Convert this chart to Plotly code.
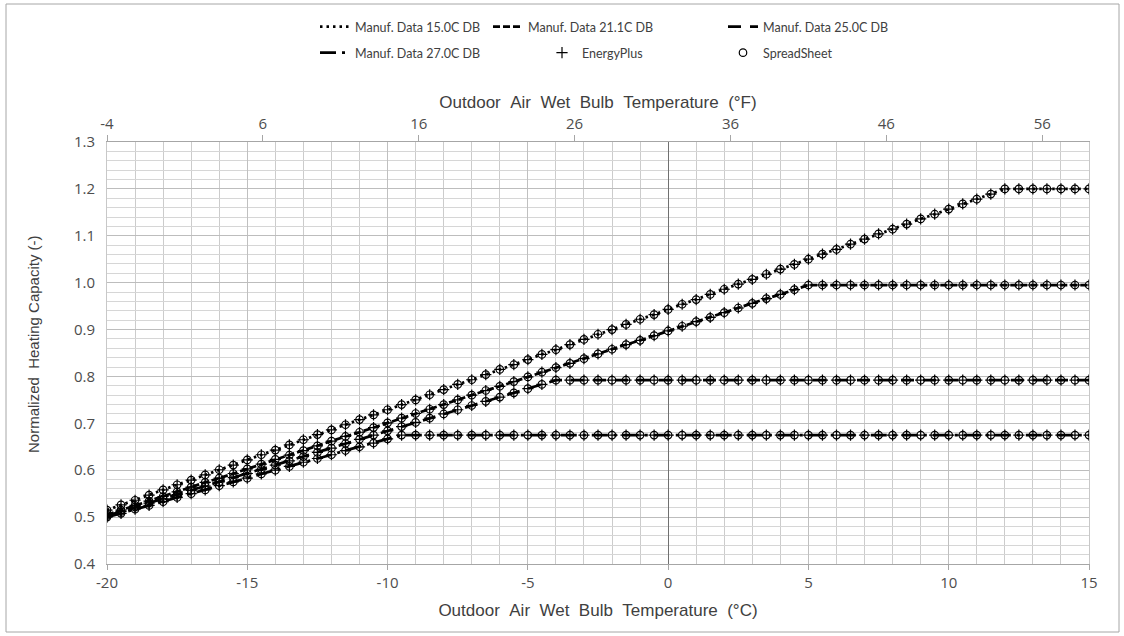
import plotly.graph_objects as go

# ---------------- data ----------------
temps_c = [-20.0, -19.5, -19.0, -18.5, -18.0, -17.5, -17.0, -16.5, -16.0, -15.5,
           -15.0, -14.5, -14.0, -13.5, -13.0, -12.5, -12.0, -11.5, -11.0, -10.5,
           -10.0, -9.5, -9.0, -8.5, -8.0, -7.5, -7.0, -6.5, -6.0, -5.5,
           -5.0, -4.5, -4.0, -3.5, -3.0, -2.5, -2.0, -1.5, -1.0, -0.5,
           0.0, 0.5, 1.0, 1.5, 2.0, 2.5, 3.0, 3.5, 4.0, 4.5,
           5.0, 5.5, 6.0, 6.5, 7.0, 7.5, 8.0, 8.5, 9.0, 9.5,
           10.0, 10.5, 11.0, 11.5, 12.0, 12.5, 13.0, 13.5, 14.0, 14.5, 15.0]

cap_15_0 = [0.515, 0.526, 0.536, 0.547, 0.558, 0.569, 0.579, 0.590, 0.601, 0.611,
            0.622, 0.633, 0.643, 0.654, 0.665, 0.676, 0.686, 0.697, 0.708, 0.718,
            0.729, 0.740, 0.750, 0.761, 0.772, 0.783, 0.793, 0.804, 0.815, 0.825,
            0.836, 0.847, 0.857, 0.868, 0.879, 0.890, 0.900, 0.911, 0.922, 0.932,
            0.943, 0.954, 0.964, 0.975, 0.986, 0.997, 1.007, 1.018, 1.029, 1.039,
            1.050, 1.061, 1.071, 1.082, 1.093, 1.104, 1.114, 1.125, 1.136, 1.146,
            1.157, 1.168, 1.178, 1.189, 1.200, 1.200, 1.200, 1.200, 1.200, 1.200, 1.200]

cap_21_1 = [0.505, 0.515, 0.525, 0.534, 0.544, 0.554, 0.564, 0.574, 0.583, 0.593,
            0.603, 0.613, 0.623, 0.632, 0.642, 0.652, 0.662, 0.672, 0.681, 0.691,
            0.701, 0.711, 0.721, 0.730, 0.740, 0.750, 0.760, 0.770, 0.779, 0.789,
            0.799, 0.809, 0.819, 0.828, 0.838, 0.848, 0.858, 0.868, 0.877, 0.887,
            0.897, 0.907, 0.917, 0.926, 0.936, 0.946, 0.956, 0.966, 0.975, 0.985,
            0.995, 0.995, 0.995, 0.995, 0.995, 0.995, 0.995, 0.995, 0.995, 0.995,
            0.995, 0.995, 0.995, 0.995, 0.995, 0.995, 0.995, 0.995, 0.995, 0.995, 0.995]

cap_25_0 = [0.503, 0.512, 0.521, 0.530, 0.539, 0.548, 0.557, 0.566, 0.575, 0.584,
            0.593, 0.602, 0.611, 0.620, 0.629, 0.638, 0.647, 0.657, 0.666, 0.675,
            0.684, 0.693, 0.702, 0.711, 0.720, 0.729, 0.738, 0.747, 0.756, 0.765,
            0.774, 0.783, 0.792, 0.792, 0.792, 0.792, 0.792, 0.792, 0.792, 0.792,
            0.792, 0.792, 0.792, 0.792, 0.792, 0.792, 0.792, 0.792, 0.792, 0.792,
            0.792, 0.792, 0.792, 0.792, 0.792, 0.792, 0.792, 0.792, 0.792, 0.792,
            0.792, 0.792, 0.792, 0.792, 0.792, 0.792, 0.792, 0.792, 0.792, 0.792, 0.792]

cap_27_0 = [0.500, 0.508, 0.517, 0.525, 0.533, 0.542, 0.550, 0.558, 0.567, 0.575,
            0.583, 0.592, 0.600, 0.608, 0.617, 0.625, 0.633, 0.642, 0.650, 0.658,
            0.667, 0.675, 0.675, 0.675, 0.675, 0.675, 0.675, 0.675, 0.675, 0.675,
            0.675, 0.675, 0.675, 0.675, 0.675, 0.675, 0.675, 0.675, 0.675, 0.675,
            0.675, 0.675, 0.675, 0.675, 0.675, 0.675, 0.675, 0.675, 0.675, 0.675,
            0.675, 0.675, 0.675, 0.675, 0.675, 0.675, 0.675, 0.675, 0.675, 0.675,
            0.675, 0.675, 0.675, 0.675, 0.675, 0.675, 0.675, 0.675, 0.675, 0.675, 0.675]

series_names = ["Manuf. Data 15.0C DB", "Manuf. Data 21.1C DB",
                "Manuf. Data 25.0C DB", "Manuf. Data 27.0C DB"]
sim_names = ["EnergyPlus", "SpreadSheet"]

x_range_c = [-20, 15]
y_range = [0.4, 1.3]
bottom_ticks_c = [-20, -15, -10, -5, 0, 5, 10, 15]
bottom_labels_c = ["-20", "-15", "-10", "-5", "0", "5", "10", "15"]
top_ticks_f = [-4, 6, 16, 26, 36, 46, 56]
top_labels_f = ["-4", "6", "16", "26", "36", "46", "56"]

# ---------------- styles ----------------
W, H = 1124, 636
L, R, T, B = 107, 35, 142, 72
PW, PH = W - L - R, H - T - B
dashes = ["2.5px,4px", "7px,3px", "13px,9px", "16px,6px,3px,6px"]
legend_ids = ["legend", "legend2", "legend3", "legend4"]
# legend anchor positions in px (left, centre y)
legend_pos = {
    "legend": (315, 27), "legend2": (488, 27), "legend3": (723, 27),
    "legend4": (315, 53), "legend5": (542, 53), "legend6": (723, 53),
}
legend_font = dict(family="Lato", size=12.5, color="#404040")
tick_font = dict(family="Open Sans", size=15, color="#4d4d4d")
title_font = dict(family="Liberation Sans", size=17, color="#404040")
SP = " \u00a0"  # wide word gap

fig = go.Figure()
all_caps = [cap_15_0, cap_21_1, cap_25_0, cap_27_0]
for name, vals, dash, lg in zip(series_names, all_caps, dashes, legend_ids):
    fig.add_trace(go.Scatter(x=temps_c, y=vals, mode="lines", name=name,
                             line=dict(color="black", width=2.75, dash=dash),
                             legend=lg, hoverinfo="skip"))

sim_x, sim_y = [], []
for vals in all_caps:
    sim_x += temps_c + [None]
    sim_y += vals + [None]

fig.add_trace(go.Scatter(x=sim_x, y=sim_y, mode="markers", name=sim_names[0],
                         marker=dict(symbol="cross-thin-open", size=8, color="black",
                                     line=dict(color="black", width=1.2)),
                         legend="legend5", hoverinfo="skip"))
fig.add_trace(go.Scatter(x=sim_x, y=sim_y, mode="markers", name=sim_names[1],
                         marker=dict(symbol="circle-open", size=7.5, color="black",
                                     line=dict(color="black", width=1.2)),
                         legend="legend6", hoverinfo="skip"))

# top axis (deg F) carrier
f_range = [c * 9 / 5 + 32 for c in x_range_c]
fig.add_trace(go.Scatter(x=f_range, y=[None, None], xaxis="x2", mode="markers",
                         showlegend=False, hoverinfo="skip"))

legends = {}
for lg, (px, py) in legend_pos.items():
    legends[lg] = dict(x=px / W, y=1 - py / H, xref="container", yref="container",
                       xanchor="left", yanchor="middle", bgcolor="rgba(0,0,0,0)",
                       borderwidth=0, font=legend_font)

fig.update_layout(
    width=W, height=H,
    margin=dict(l=L, r=R, t=T, b=B, autoexpand=False),
    paper_bgcolor="white", plot_bgcolor="white",
    xaxis=dict(range=x_range_c, tickvals=bottom_ticks_c, ticktext=bottom_labels_c,
               showgrid=True, gridcolor="#c0c0c0", gridwidth=1,
               minor=dict(dtick=1, tick0=-20, showgrid=True, gridcolor="#cccccc", ticks=""),
               zeroline=True, zerolinecolor="#707070", zerolinewidth=1,
               showline=True, linecolor="#a6a6a6", linewidth=1,
               ticks="outside", ticklen=5, tickcolor="#a6a6a6",
               tickfont=tick_font,
               title=dict(text="Outdoor" + SP + "Air" + SP + "Wet" + SP + "Bulb" + SP
                          + "Temperature" + SP + "(°C)",
                          font=title_font, standoff=13)),
    xaxis2=dict(overlaying="x", side="top", range=f_range, tickvals=top_ticks_f,
                ticktext=top_labels_f,
                showgrid=False, zeroline=False, showline=True,
                linecolor="#a6a6a6", linewidth=1, ticks="outside", ticklen=6,
                tickcolor="#a6a6a6", tickfont=tick_font,
                title=dict(text="Outdoor" + SP + "Air" + SP + "Wet" + SP + "Bulb" + SP
                           + "Temperature" + SP + "(°F)",
                           font=title_font, standoff=0)),
    yaxis=dict(range=y_range, dtick=0.1, tick0=0.4, tickformat=".1f",
               showgrid=True, gridcolor="#bdbdbd", gridwidth=1,
               minor=dict(dtick=0.02, showgrid=True, gridcolor="#d6d6d6", ticks=""),
               zeroline=False, showline=True, mirror=True, linecolor="#c8c8c8",
               ticks="outside", ticklen=8, tickcolor="rgba(0,0,0,0)", tickfont=tick_font),
    annotations=[dict(text="Normalized" + SP + "Heating Capacity (-)",
                      xref="paper", yref="paper",
                      x=(33 - L) / PW, y=(H - B - 344) / PH,
                      xanchor="center", yanchor="middle", textangle=-90, showarrow=False,
                      font=dict(family="Liberation Sans", size=15, color="#404040"))],
    shapes=[dict(type="rect", xref="paper", yref="paper",
                 x0=(6 - L) / PW, x1=(1119 - L) / PW,
                 y0=(H - B - 632) / PH, y1=(H - B - 4) / PH,
                 line=dict(color="#a6a6a6", width=1), fillcolor="rgba(0,0,0,0)",
                 layer="below")],
    **legends,
)

fig.write_html("out.html")
